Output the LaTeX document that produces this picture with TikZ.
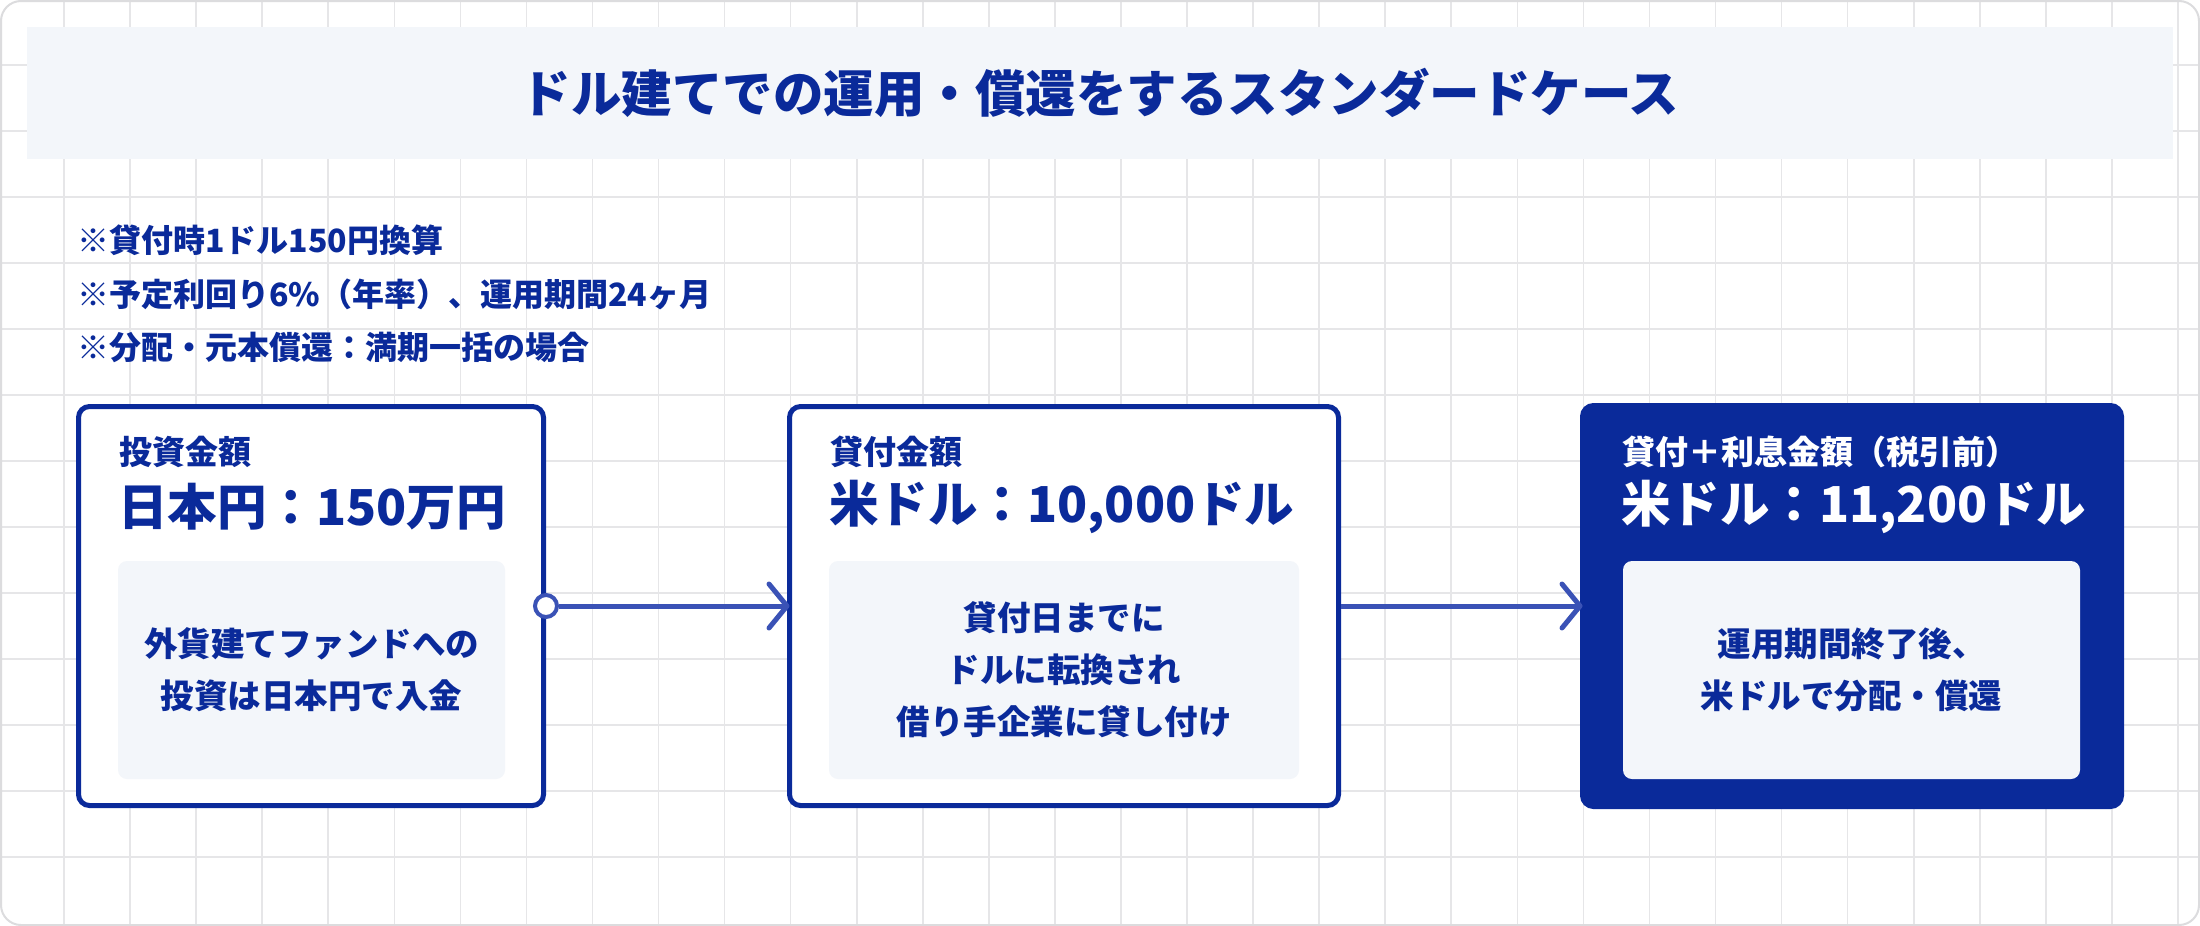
\documentclass[tikz,border=0pt]{standalone}
\usepackage{fontspec}
\setmainfont{Noto Sans CJK JP}
\usetikzlibrary{arrows.meta}
\definecolor{navy}{HTML}{0A2A9A}
\definecolor{connblue}{HTML}{3A52B6}
\definecolor{pale}{HTML}{F3F6FA}
\definecolor{gridc}{HTML}{E6E6E8}
\definecolor{framec}{HTML}{DCDCDE}
\tikzset{
  gridline/.style={draw=gridc, line width=1.6pt},
  outerbox/.style={draw=navy, line width=5pt, rounded corners=11pt, fill=white, inner sep=0pt},
  darkbox/.style={outerbox, fill=navy},
  innerbox/.style={fill=pale, rounded corners=9pt, inner sep=0pt, minimum height=218pt},
  headtxt/.style={anchor=west, inner sep=0pt, font=\bfseries\fontsize{33}{38}\selectfont, text=navy},
  bigtxt/.style={anchor=west, inner sep=0pt, font=\bfseries\fontsize{49.5}{58}\selectfont, text=navy},
  bodytxt/.style={align=center, inner sep=0pt, font=\bfseries\fontsize{33.5}{52}\selectfont, text=navy},
  notetxt/.style={anchor=west, inner sep=0pt, font=\bfseries\fontsize{32}{36}\selectfont, text=navy},
  connline/.style={draw=connblue, line width=5pt},
  chevron/.style={draw=connblue, line width=5pt, line cap=round, line join=round},
  startdot/.style={circle, draw=connblue, line width=4pt, fill=white, minimum size=22pt, inner sep=0pt}
}
\begin{document}
\begin{tikzpicture}[x=1pt,y=-1pt]
\useasboundingbox (0,0) rectangle (2200,926);
% frame and grid
\fill[white, rounded corners=20pt] (1,1) rectangle (2199,925);
\begin{scope}
  \clip[rounded corners=20pt] (1,1) rectangle (2199,925);
  \foreach \i in {0,...,32} \draw[gridline] ({64+66.06*\i},0) -- ({64+66.06*\i},926);
  \foreach \j in {0,...,12} \draw[gridline] (0,{65+66*\j}) -- (2200,{65+66*\j});
\end{scope}
\draw[framec, line width=2pt, rounded corners=20pt] (1,1) rectangle (2199,925);
% title band
\node[fill=pale, inner sep=0pt, minimum width=2146pt, minimum height=132pt] (band) at (1100,93) {};
\node[inner sep=0pt, font=\bfseries\fontsize{50.5}{58}\selectfont, text=navy] (title) at (band.center) {ドル建てでの運用・償還をするスタンダードケース};
% notes
\node[notetxt] (n1) at (77,240) {※貸付時1ドル150円換算};
\node[notetxt] (n2) at (77,294) {※予定利回り6\%（年率）、運用期間24ヶ月};
\node[notetxt] (n3) at (77,347) {※分配・元本償還：満期一括の場合};
% box 1
\node[outerbox, minimum width=465pt, minimum height=399pt] (b1) at (311,606) {};
\node[innerbox, minimum width=387pt] (i1) at (311.5,670) {};
\node[headtxt] (h1) at (119,452) {投資金額};
\node[bigtxt] (v1) at (118,507) {日本円：150万円};
\node[bodytxt] (t1) at (i1.center) {外貨建てファンドへの\\投資は日本円で入金};
% box 2
\node[outerbox, minimum width=549pt, minimum height=399pt] (b2) at (1064,606) {};
\node[innerbox, minimum width=470pt] (i2) at (1064,670) {};
\node[headtxt] (h2) at (830,452) {貸付金額};
\node[bigtxt] (v2) at (829,507) {米ドル：10,000ドル};
\node[bodytxt] (t2) at (i2.center) {貸付日までに\\ドルに転換され\\借り手企業に貸し付け};
% box 3
\node[darkbox, minimum width=539pt, minimum height=401pt] (b3) at (1852,606) {};
\node[innerbox, minimum width=457pt] (i3) at (1851.5,670) {};
\node[headtxt, text=white] (h3) at (1622,452) {貸付＋利息金額（税引前）};
\node[bigtxt, text=white] (v3) at (1621,507) {米ドル：11,200ドル};
\node[bodytxt] (t3) at (i3.center) {運用期間終了後、\\米ドルで分配・償還};
% connectors
\node[startdot] (c1) at (b1.east) {};
\draw[connline] (c1.east) -- (b2.west);
\draw[chevron] ([shift={(-18,-22)}]b2.west) -- (b2.west) -- ([shift={(-18,22)}]b2.west);
\draw[connline] (b2.east) -- (b3.west);
\draw[chevron] ([shift={(-18,-22)}]b3.west) -- (b3.west) -- ([shift={(-18,22)}]b3.west);
\end{tikzpicture}
\end{document}
